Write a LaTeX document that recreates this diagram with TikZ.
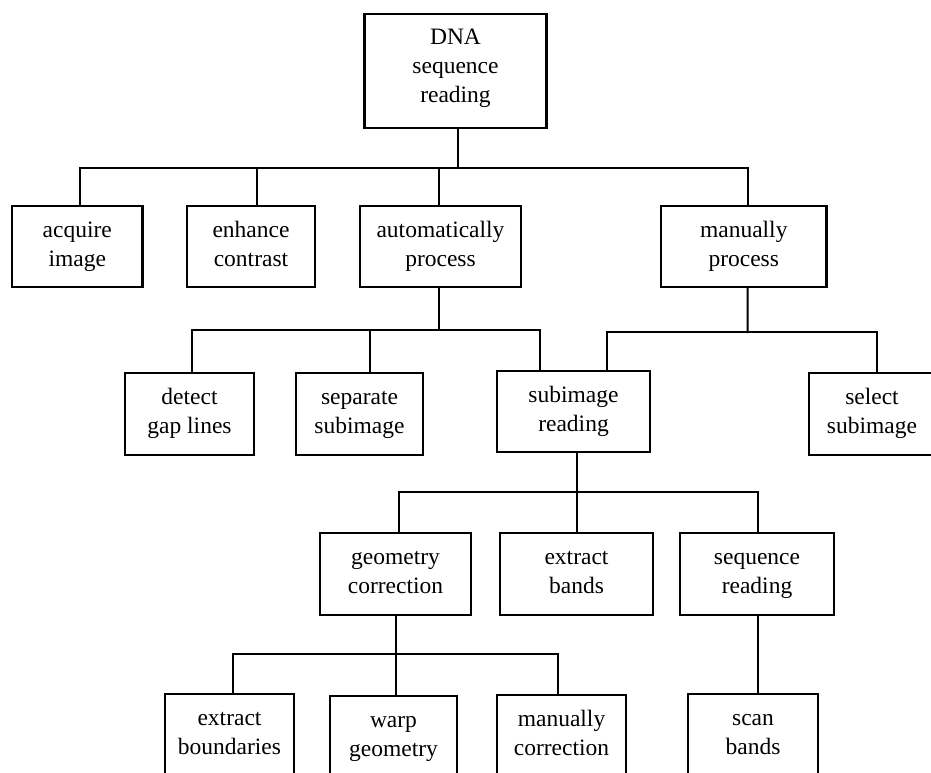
\documentclass[tikz,border=0pt]{standalone}
\usepackage{fontspec}
\setmainfont{Liberation Serif}
\begin{document}
\begin{tikzpicture}[x=1pt,y=-1pt,
  box/.style={draw, line width=2.4pt, rectangle, align=center, inner sep=0pt,
    font=\fontsize{23.5pt}{29pt}\selectfont, minimum height=81pt,
    text height=45pt, text depth=6pt},
  link/.style={line width=2pt, line cap=rect}]
\useasboundingbox (0,0) rectangle (931,772);
\clip (0,0) rectangle (931,772);

% level 0
\node[box, minimum width=182pt, minimum height=114pt, text height=74pt, text depth=12pt] (dna) at (455.5,71) {DNA\\sequence\\reading};

% level 1
\node[box, minimum width=130.5pt] (acq)  at (77.25,246.5) {acquire\\image};
\node[box, minimum width=128pt]   (enh)  at (251,246.5)   {enhance\\contrast};
\node[box, minimum width=161pt]   (auto) at (440.5,246.5) {automatically\\process};
\node[box, minimum width=165.5pt] (man)  at (743.75,246.5) {manually\\process};

% level 2
\node[box, minimum width=129pt, minimum height=82pt] (det) at (189.5,414) {detect\\gap lines};
\node[box, minimum width=127pt, minimum height=82pt] (sep) at (359.5,414) {separate\\subimage};
\node[box, minimum width=153pt] (sub) at (573.5,411.5) {subimage\\reading};
\node[box, minimum width=126pt, minimum height=82pt] (sel) at (872,414) {select\\subimage};

% level 3
\node[box, minimum width=151pt, minimum height=82pt] (geo) at (395.5,574) {geometry\\correction};
\node[box, minimum width=153pt, minimum height=82pt] (ext) at (576.5,574) {extract\\bands};
\node[box, minimum width=154pt, minimum height=82pt] (seq) at (757,574) {sequence\\reading};

% level 4
\node[box, minimum width=129pt, minimum height=82pt] (bnd) at (229.5,735) {extract\\boundaries};
\node[box, minimum width=127pt, minimum height=82pt] (wrp) at (393.5,737) {warp\\geometry};
\node[box, minimum width=129pt, minimum height=82pt] (mcr) at (561.5,736) {manually\\correction};
\node[box, minimum width=130pt, minimum height=82pt] (scn) at (753,735) {scan\\bands};

% bus junctions
\coordinate (b1) at (457.5,168);
\coordinate (b2) at (439,330);
\coordinate (b3) at (747.6,332);
\coordinate (b4) at (577,492);
\coordinate (b5) at (396,654);

% DNA sequence reading -> first level
\draw[link] ([xshift=2pt]dna.south) -- (b1);
\draw[link] ([xshift=2.75pt]acq.north) |- (b1) -| ([xshift=3.9pt]man.north);
\draw[link] ([xshift=5.5pt]enh.north) -- ([xshift=5.5pt]enh.north |- b1);
\draw[link] ([xshift=-1.5pt]auto.north) -- ([xshift=-1.5pt]auto.north |- b1);

% automatically process
\draw[link] ([xshift=-1.5pt]auto.south) -- (b2);
\draw[link] ([xshift=2.5pt]det.north) |- (b2) -| ([xshift=-33.5pt]sub.north);
\draw[link] ([xshift=10.5pt]sep.north) -- ([xshift=10.5pt]sep.north |- b2);

% manually process
\draw[link] ([xshift=3.9pt]man.south) -- (b3);
\draw[link] ([xshift=33.5pt]sub.north) |- (b3) -| ([xshift=5pt]sel.north);

% subimage reading
\draw[link] ([xshift=3.5pt]sub.south) -- (b4);
\draw[link] ([xshift=3.5pt]geo.north) |- (b4) -| ([xshift=1pt]seq.north);
\draw[link] ([xshift=0.5pt]ext.north) -- ([xshift=0.5pt]ext.north |- b4);

% geometry correction
\draw[link] ([xshift=0.5pt]geo.south) -- (b5);
\draw[link] ([xshift=3.5pt]bnd.north) |- (b5) -| ([xshift=-3.5pt]mcr.north);
\draw[link] ([xshift=2.5pt]wrp.north) -- ([xshift=2.5pt]wrp.north |- b5);

% sequence reading
\draw[link] ([xshift=1pt]seq.south) -- ([xshift=5pt]scn.north);
\end{tikzpicture}
\end{document}
